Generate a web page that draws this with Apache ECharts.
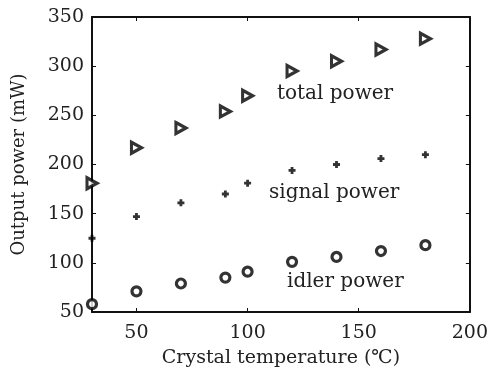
<!doctype html>
<html>
<head>
<meta charset="utf-8">
<title>Output power vs crystal temperature</title>
<style>
    html, body { margin: 0; padding: 0; background: #fff; }
    #chartEle { width: 491px; height: 379px; }
</style>
</head>
<body>
<div id="chartEle"></div>
<script src="https://cdn.jsdelivr.net/npm/echarts@6/dist/echarts.min.js"></script>
<script>
    // 晶体温度 (℃)
    var temps = [30, 50, 70, 90, 100, 120, 140, 160, 180];
    var totalPower = [181, 217, 237, 254, 270, 295, 305, 317, 328];
    var signalPower = [125, 147, 161, 170, 181, 194, 200, 206, 210];
    var idlerPower = [58, 71, 79, 85, 91, 101, 106, 112, 118];
    var xTicks = [50, 100, 150, 200];

    function pairs(ys) {
        return temps.map(function (t, i) { return [t, ys[i]]; });
    }

    var font = 'DejaVu Serif';
    var triPath = 'path://M0,0 L10,5 L0,10 Z';
    var plusPath = 'path://M3,0 L7,0 L7,3 L10,3 L10,7 L7,7 L7,10 L3,10 L3,7 L0,7 L0,3 L3,3 Z';

    var myChart = echarts.init(document.getElementById('chartEle'));
    var axisLine = {show: true, lineStyle: {color: '#111', width: 2}};
    var option = {
        animation: false,
        backgroundColor: '#fff',
        grid: {left: 92, right: 19, top: 17, bottom: 67},
        xAxis: [{
            type: 'value', min: 30, max: 200,
            name: 'Crystal temperature (℃)', nameLocation: 'middle', nameGap: 37,
            nameTextStyle: {fontFamily: font, fontSize: 19, color: '#222'},
            axisLine: axisLine,
            axisTick: {show: true, inside: true, length: 4, customValues: xTicks, lineStyle: {color: '#111'}},
            axisLabel: {customValues: xTicks, fontFamily: font, fontSize: 19, color: '#222', margin: 12},
            splitLine: {show: false}
        }, {
            type: 'value', min: 30, max: 200, position: 'top',
            axisLine: axisLine,
            axisTick: {show: true, inside: true, length: 4, customValues: xTicks, lineStyle: {color: '#111'}},
            axisLabel: {show: false},
            splitLine: {show: false}
        }],
        yAxis: [{
            type: 'value', min: 50, max: 350, interval: 50,
            name: 'Output power (mW)', nameLocation: 'middle', nameGap: 64, nameRotate: 90,
            nameTextStyle: {fontFamily: font, fontSize: 18, color: '#222'},
            axisLine: axisLine,
            axisTick: {show: true, inside: true, length: 4, lineStyle: {color: '#111'}},
            axisLabel: {fontFamily: font, fontSize: 19, color: '#222', margin: 8},
            splitLine: {show: false}
        }, {
            type: 'value', min: 50, max: 350, interval: 50, position: 'right',
            axisLine: axisLine,
            axisTick: {show: true, inside: true, length: 4, lineStyle: {color: '#111'}},
            axisLabel: {show: false},
            splitLine: {show: false}
        }],
        series: [{
            name: 'total power', type: 'scatter', data: pairs(totalPower),
            symbol: triPath, symbolSize: [10, 11],
            itemStyle: {color: '#fff', borderColor: '#000', borderWidth: 3.2}
        }, {
            name: 'signal power', type: 'scatter', data: pairs(signalPower),
            symbol: plusPath, symbolSize: 7,
            itemStyle: {color: '#000'}
        }, {
            name: 'idler power', type: 'scatter', data: pairs(idlerPower),
            symbol: 'circle', symbolSize: 9,
            itemStyle: {color: '#fff', borderColor: '#000', borderWidth: 3.2}
        }],
        graphic: [
            {type: 'text', left: 277, top: 84, style: {text: 'total power', font: '20px "DejaVu Serif"', fill: '#222'}},
            {type: 'text', left: 269, top: 183, style: {text: 'signal power', font: '20px "DejaVu Serif"', fill: '#222'}},
            {type: 'text', left: 287, top: 272, style: {text: 'idler power', font: '20px "DejaVu Serif"', fill: '#222'}}
        ]
    };
    myChart.setOption(option);
</script>
</body>
</html>
